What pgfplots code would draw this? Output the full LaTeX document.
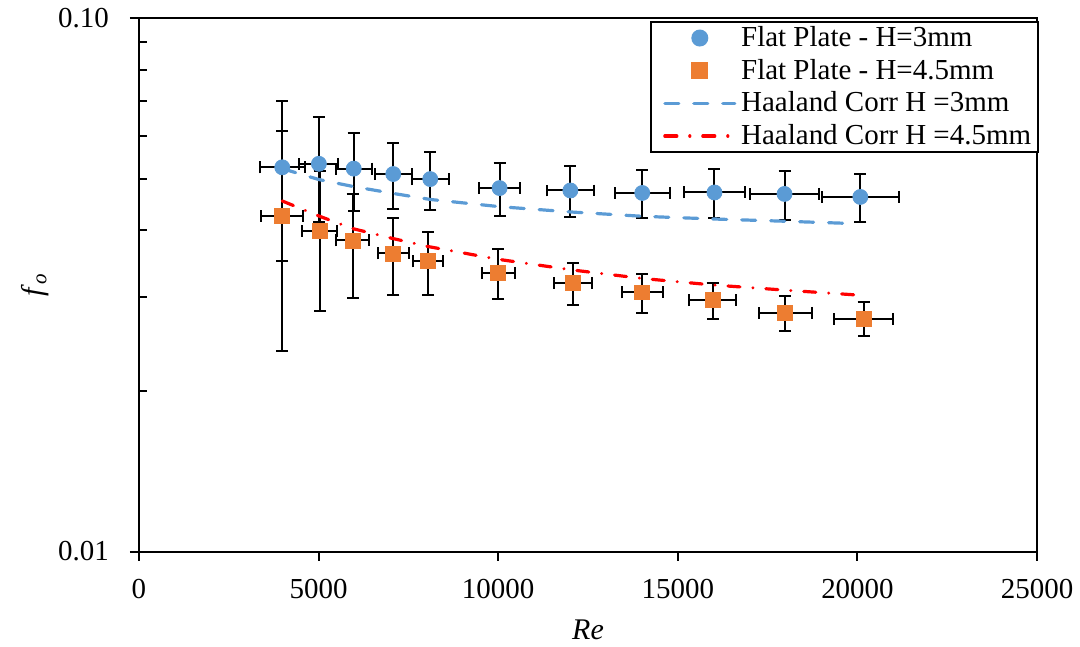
\documentclass[border=0pt]{standalone}
\usepackage{fontspec}
\setmainfont{Liberation Serif}
\usepackage{pgfplots}
\pgfplotsset{compat=1.18}
\usepackage{pgfplotstable}

\definecolor{xlblue}{HTML}{5B9BD5}
\definecolor{xlorange}{HTML}{ED7D31}

\pgfplotsset{
    markleg/.style={legend image code/.code={\path (0pt,0pt); \draw[mark repeat=2, mark phase=2, ##1] plot coordinates {(5pt,0pt) (22.5pt,0pt) (40pt,0pt)};}},
    lineleg/.style={legend image code/.code={\path (0pt,0pt); \draw[##1] (5pt,0pt) -- (40pt,0pt);}},
    ebars/.style={forget plot, only marks, mark=*, mark size=0pt,
        error bars/.cd, x dir=both, x explicit, y dir=both, y explicit,
        error mark=-,
        error bar style={draw=black, line width=1pt, solid},
        error mark options={rotate=90, draw=black, line width=1pt, mark size=3pt, solid}},
}

% measured points: Re, f, x error, y error
\pgfplotstableread{
x     y      ex    ey
3990  0.0525 625   0.0174
5010  0.0533 540   0.0118
5980  0.0522 500   0.0088
7080  0.0510 520   0.0072
8110  0.0499 520   0.0063
10040 0.0480 580   0.0055
12010 0.0475 660   0.0052
14010 0.0470 760   0.0049
16020 0.0471 860   0.0050
17970 0.0468 965   0.0049
20080 0.0462 1065  0.0048
}\flatA

\pgfplotstableread{
x     y      ex    ey
3990  0.0426 590   0.0188
5030  0.0399 480   0.0117
5950  0.0383 450   0.0084
7080  0.0362 430   0.0060
8050  0.0350 427   0.0048
10000 0.0333 455   0.0036
12080 0.0319 520   0.0029
14010 0.0306 575   0.0026
15970 0.0296 653   0.0023
17990 0.0280 731   0.0021
20170 0.0273 812   0.0020
}\flatB

% Haaland correlation
\pgfplotstableread{
x     y
3990  0.0522
5010  0.0498
5980  0.0483
7080  0.0469
8110  0.0457
10040 0.0443
12010 0.0433
14010 0.0425
16020 0.0420
17970 0.0416
19820 0.0412
}\haalA

\pgfplotstableread{
x     y
3990  0.0454
5030  0.0425
5950  0.0403
7080  0.0386
8050  0.0373
10000 0.0353
12080 0.0337
14010 0.0325
15970 0.0316
17990 0.0309
20170 0.0302
}\haalB

\begin{document}
\begin{tikzpicture}
\begin{axis}[
    scale only axis,
    width=449.5pt, height=267pt,
    xmin=0, xmax=25000,
    ymode=log, ymin=0.01, ymax=0.1,
    xtick={0,5000,10000,15000,20000,25000},
    xticklabels={0,5000,10000,15000,20000,25000},
    scaled x ticks=false,
    ytick={0.01,0.1},
    yticklabels={0.01,0.10},
    extra y ticks={0.02,0.03,0.04,0.05,0.06,0.07,0.08,0.09},
    extra y tick labels={},
    extra y tick style={tick align=inside, major tick length=4pt},
    minor y tick style={draw=none},
    tick pos=left,
    tick align=outside,
    major tick length=4.5pt,
    tick style={black, line width=1pt},
    axis line style={black, line width=1pt},
    /pgf/number format/assume math mode=true,
    tick label style={font=\fontsize{14.5}{16}\selectfont},
    xticklabel style={yshift=-6pt},
    yticklabel style={xshift=-7pt},
    xlabel={\textit{Re}},
    ylabel={\textit{f}\textsubscript{\textit{o}}},
    label style={font=\fontsize{15}{17}\selectfont},
    xlabel style={at={(axis description cs:0.5,-0.146)}, anchor=center},
    ylabel style={at={(axis description cs:-0.116,0.5)}, anchor=center},
    legend cell align=left,
    legend style={at={(1.002,0.995)}, anchor=north east, draw=black, line width=1pt,
        font=\fontsize{14.5}{16}\selectfont, inner xsep=1pt, inner ysep=0pt,
        nodes={inner sep=2.4pt},
        /tikz/every even column/.append style={column sep=0pt},
        /tikz/every odd column/.append style={column sep=0pt}},
]

% error bars first, markers on top
\addplot[ebars] table[x=x, y=y, x error=ex, y error=ey] {\flatA};
\addplot[ebars] table[x=x, y=y, x error=ex, y error=ey] {\flatB};

\addplot[only marks, mark=*, mark size=3.75pt, color=xlblue,
    mark options={draw=none, fill=xlblue}, markleg]
    table[x=x, y=y] {\flatA};
\addlegendentry{Flat Plate - H=3mm}

\addplot[only marks, mark=square*, mark size=3.75pt, color=xlorange,
    mark options={draw=none, fill=xlorange}, markleg]
    table[x=x, y=y] {\flatB};
\addlegendentry{Flat Plate - H=4.5mm}

\addplot[color=xlblue, line width=1.6pt, line cap=round, mark=none,
    dash pattern=on 7pt off 7.5pt, lineleg]
    table[x=x, y=y] {\haalA};
\addlegendentry{Haaland Corr H =3mm}

\addplot[color=red, line width=1.6pt, line cap=round, mark=none,
    dash pattern=on 6pt off 6.5pt on 0.01pt off 6.5pt, lineleg]
    table[x=x, y=y] {\haalB};
\addlegendentry{Haaland Corr H =4.5mm}

\end{axis}
\path (current axis.south west) ++(-69.5pt,-47pt) rectangle ++(540pt,323pt);
\end{tikzpicture}
\end{document}
